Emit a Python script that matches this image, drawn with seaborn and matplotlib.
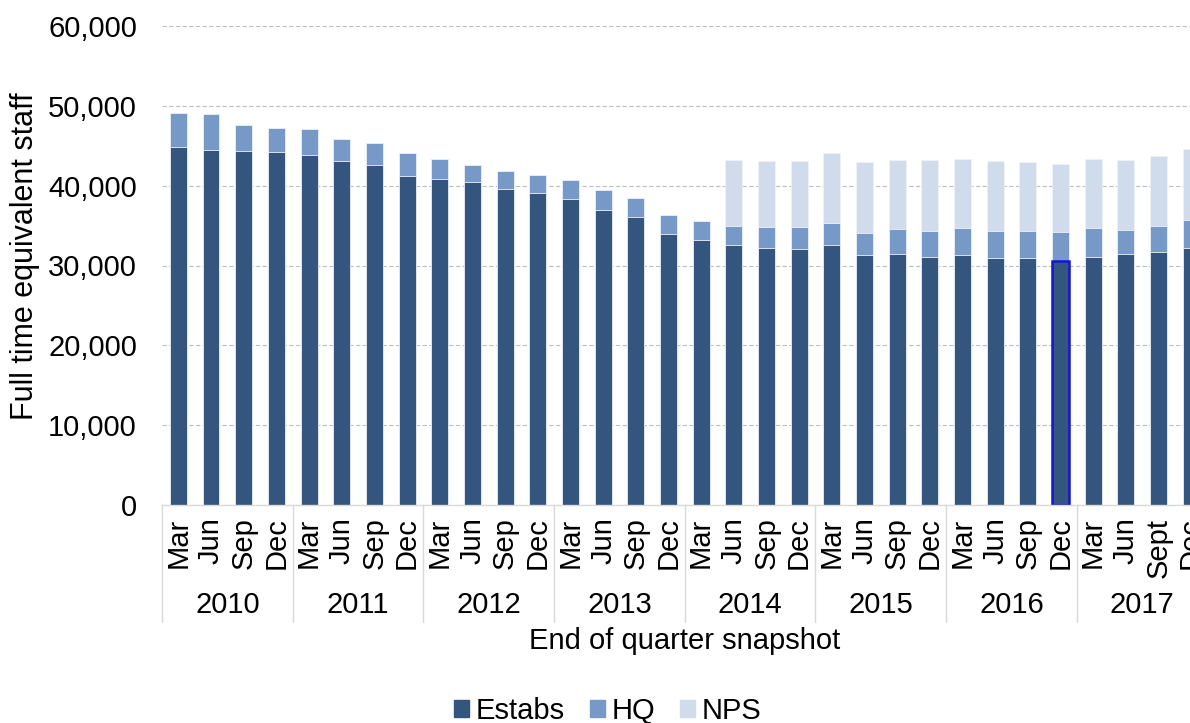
import matplotlib
matplotlib.use("Agg")
import matplotlib.pyplot as plt
import matplotlib.patches as mpatches
import matplotlib.transforms as mtransforms
from matplotlib.ticker import FuncFormatter
import seaborn as sns
import pandas as pd
import numpy as np

# data
years = ["2010", "2011", "2012", "2013", "2014", "2015", "2016", "2017"]
months = ["Mar", "Jun", "Sep", "Dec"] * 7 + ["Mar", "Jun", "Sept", "Dec"]

estabs = [44900, 44480, 44350, 44180, 43890, 43100, 42640, 41250,
          40800, 40500, 39580, 39080, 38370, 36990, 36070, 33890,
          33140, 32510, 32180, 32010, 32510, 31260, 31420, 31090,
          31260, 30960, 30960, 30540, 31090, 31420, 31720, 32180]
hq = [4150, 4480, 3220, 3050, 3180, 2760, 2760, 2800,
      2590, 2130, 2300, 2300, 2300, 2430, 2430, 2430,
      2470, 2430, 2640, 2800, 2760, 2760, 3100, 3220,
      3390, 3350, 3350, 3600, 3560, 3050, 3220, 3520]
nps = [0] * 17 + [8330, 8280, 8280, 8790, 8950, 8750, 8950,
                  8750, 8790, 8620, 8620, 8750, 8790, 8790, 8950]

c_estabs = "#34557e"
c_hq = "#7799c8"
c_nps = "#d0dcec"

keys = [f"{years[i // 4]} {m}" for i, m in enumerate(months)]
df = pd.DataFrame({"quarter": keys, "estabs": estabs, "hq": hq, "nps": nps})
df["hq_top"] = df["estabs"] + df["hq"]
df["total"] = df["hq_top"] + df["nps"]

sns.set_style("white")
plt.rcParams["font.family"] = ["Liberation Sans", "DejaVu Sans"]
plt.rcParams["text.color"] = "black"
plt.rcParams["xtick.color"] = "black"
plt.rcParams["ytick.color"] = "black"
plt.rcParams["axes.labelcolor"] = "black"

W, H = 1190, 723
fig = plt.figure(figsize=(W / 100, H / 100), dpi=100)

# plot area in pixels: left 162, 0 at y=505, 60,000 at y=26; last bar runs off the right edge
x0, y0, y1 = 162, 505, 26
step = 32.67
ax = fig.add_axes([x0 / W, 1 - y0 / H, 32 * step / W, (y0 - y1) / H])

bar_w = 0.52
edge = dict(edgecolor="#eef2f8", linewidth=0.6)
sns.barplot(data=df, x="quarter", y="total", color=c_nps, width=bar_w,
            errorbar=None, saturation=1, ax=ax, **edge)
sns.barplot(data=df, x="quarter", y="hq_top", color=c_hq, width=bar_w,
            errorbar=None, saturation=1, ax=ax, **edge)
sns.barplot(data=df, x="quarter", y="estabs", color=c_estabs, width=bar_w,
            errorbar=None, saturation=1, ax=ax, **edge)

# selected bar outline (2016 Dec)
sel = ax.containers[-1][27]
sel.set_edgecolor("#1414d2")
sel.set_linewidth(1.8)

ax.set_xlim(-0.5, 31.5)
ax.set_ylim(0, 60000)
ax.yaxis.set_major_locator(plt.MultipleLocator(10000))
ax.yaxis.set_major_formatter(FuncFormatter(lambda v, p: f"{v:,.0f}"))
ax.yaxis.grid(True, linestyle=(0, (4, 2)), color="#bfbfbf", linewidth=0.8)
ax.set_axisbelow(True)

for s in ["top", "right", "left"]:
    ax.spines[s].set_visible(False)
ax.spines["bottom"].set_color("#d9d9d9")
ax.spines["bottom"].set_linewidth(1.0)

ax.set_xticks(range(len(months)))
ax.set_xticklabels(months, rotation=90, fontsize=21, va="top", ha="center")
ax.tick_params(axis="x", length=0, pad=9)
ax.tick_params(axis="y", length=0, pad=18, labelsize=21)
ax.set_xlabel("")
ax.set_ylabel("")

# second level of the category axis: years with separators
trans = mtransforms.blended_transform_factory(ax.transData, ax.transAxes)
sep_bottom = (y0 - 622) / (y0 - y1)
for b in np.arange(-0.5, 32, 4):
    ax.plot([b, b], [0, sep_bottom], transform=trans, color="#d9d9d9",
            linewidth=1.0, clip_on=False)
for i, yr in enumerate(years):
    ax.text(i * 4 + 1.5, (y0 - 605) / (y0 - y1), yr, transform=trans,
            ha="center", va="center", fontsize=21)

ax.text(0.5, (y0 - 641) / (y0 - y1), "End of quarter snapshot",
        transform=ax.transAxes, ha="center", va="center", fontsize=21)
fig.text(25 / W, 1 - 256 / H, "Full time equivalent staff", rotation=90,
         ha="center", va="center", fontsize=22)

handles = [mpatches.Patch(color=c_estabs, label="Estabs"),
           mpatches.Patch(color=c_hq, label="HQ"),
           mpatches.Patch(color=c_nps, label="NPS")]
fig.legend(handles=handles, loc="center", bbox_to_anchor=(608 / W, 1 - 711 / H),
           ncol=3, frameon=False, fontsize=21, handlelength=0.5,
           handleheight=0.5, handletextpad=0.25, columnspacing=0.85,
           borderpad=0)

fig.savefig("out.png", dpi=100)
